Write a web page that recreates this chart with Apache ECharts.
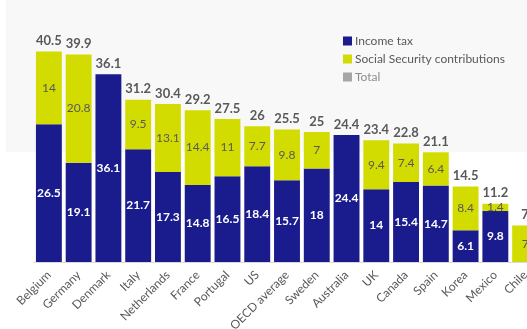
<!DOCTYPE html>
<html>
<head>
<meta charset="utf-8">
<script src="https://cdn.jsdelivr.net/npm/echarts@6/dist/echarts.min.js"></script>
<style>
html, body { margin: 0; padding: 0; background: #fff; }
#chart { width: 527px; height: 329px; }
</style>
</head>
<body>
<div id="chart"></div>
<script>
// data
var countries = ['Belgium', 'Germany', 'Denmark', 'Italy', 'Netherlands', 'France', 'Portugal', 'US',
    'OECD average', 'Sweden', 'Australia', 'UK', 'Canada', 'Spain', 'Korea', 'Mexico', 'Chile'];
var income_tax = [26.5, 19.1, 36.1, 21.7, 17.3, 14.8, 16.5, 18.4, 15.7, 18, 24.4, 14, 15.4, 14.7, 6.1, 9.8, 0];
var social_security = [14, 20.8, 0, 9.5, 13.1, 14.4, 11, 7.7, 9.8, 7, 0, 9.4, 7.4, 6.4, 8.4, 1.4, 7];
var totals = [40.5, 39.9, 36.1, 31.2, 30.4, 29.2, 27.5, 26, 25.5, 25, 24.4, 23.4, 22.8, 21.1, 14.5, 11.2, 7];

var BLUE = '#1a1b8c';
var YELLOW = '#d2dc00';
var GREY_TEXT = '#595959';
var FONT = 'Lato';

function hide_zero(p){
    return p.value == 0 ? '' : String(p.value);
}

var myChart = echarts.init(document.getElementById('chart'));

var option = {
    backgroundColor: '#ffffff',
    animation: false,
    textStyle: {fontFamily: FONT},
    graphic: [{
        type: 'rect',
        z: -10,
        silent: true,
        shape: {x: 6, y: 0, width: 521, height: 152},
        style: {fill: '#f8f8f8'}
    }],
    legend: {
        orient: 'vertical',
        left: 338,
        top: 30,
        icon: 'rect',
        itemWidth: 9,
        itemHeight: 9,
        itemGap: 6,
        textStyle: {color: GREY_TEXT, fontSize: 12, fontFamily: FONT, padding: [0, 0, 0, -2]},
        data: [
            {name: 'Income tax', itemStyle: {color: BLUE}},
            {name: 'Social Security contributions', itemStyle: {color: YELLOW}},
            {name: 'Total', itemStyle: {color: '#a6a6a6'}, textStyle: {color: '#8c8c8c'}}
        ]
    },
    grid: {
        left: 34,
        top: 28,
        width: 506,
        height: 234,
        containLabel: false,
        outerBoundsMode: 'none'
    },
    xAxis: {
        type: 'category',
        data: countries,
        axisLine: {lineStyle: {color: '#d9d9d9', width: 1}},
        axisTick: {show: false},
        axisLabel: {
            rotate: 45,
            interval: 0,
            color: GREY_TEXT,
            fontSize: 12,
            fontFamily: FONT,
            margin: 11
        }
    },
    yAxis: {
        type: 'value',
        min: 0,
        max: 45,
        show: false,
        splitLine: {show: false}
    },
    series: [{
        name: 'Income tax',
        type: 'bar',
        stack: 'tax',
        data: income_tax,
        barCategoryGap: '13%',
        itemStyle: {color: BLUE},
        label: {
            show: true,
            position: 'inside',
            color: '#ffffff',
            fontWeight: 'bold',
            fontSize: 12,
            fontFamily: FONT,
            formatter: hide_zero
        }
    }, {
        name: 'Social Security contributions',
        type: 'bar',
        stack: 'tax',
        data: social_security,
        itemStyle: {color: YELLOW},
        label: {
            show: true,
            position: 'inside',
            color: GREY_TEXT,
            fontSize: 12,
            fontFamily: FONT,
            formatter: hide_zero
        }
    }, {
        name: 'Total',
        type: 'bar',
        data: totals,
        barGap: '-100%',
        z: 1,
        silent: true,
        itemStyle: {color: 'rgba(0,0,0,0)'},
        label: {
            show: true,
            position: 'top',
            distance: 4,
            color: GREY_TEXT,
            fontWeight: 'bold',
            fontSize: 13,
            fontFamily: FONT
        }
    }]
};

myChart.setOption(option);
</script>
</body>
</html>
